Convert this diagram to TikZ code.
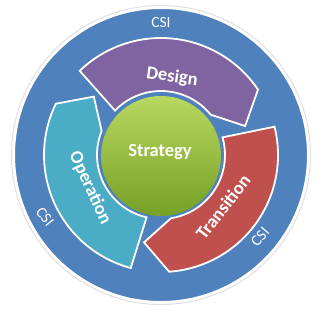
\documentclass[tikz,border=0pt]{standalone}
\usepackage{fontspec}
\setmainfont{Carlito}
\usepackage{tikz}
\usetikzlibrary{positioning}
\definecolor{csiblue}{RGB}{79,129,189}
\definecolor{designpurple}{RGB}{128,100,162}
\definecolor{transred}{RGB}{192,80,77}
\definecolor{opcyan}{RGB}{75,172,198}
\definecolor{stratlight}{RGB}{184,216,96}
\definecolor{stratmid}{RGB}{158,196,64}
\definecolor{stratdark}{RGB}{118,160,38}
\tikzset{
  ring/.style={fill=csiblue, draw=white, line width=2pt},
  seg/.style={draw=white, line width=1.8pt, line join=miter},
  csi/.style={text=white, font=\fontsize{15.5}{15.5}\selectfont, inner sep=0pt},
  phase/.style={text=white, font=\bfseries\fontsize{18.5}{18.5}\selectfont, inner sep=0pt}
}
\begin{document}
\begin{tikzpicture}[x=1pt,y=1pt]
  \useasboundingbox (-161,-156) rectangle (159,155);
  % outer CSI ring
  \draw[gray!25, line width=1pt] (0,0) circle[radius=149.5pt];
  \path[ring] (0,0) circle[radius=147pt];
  % the three phases
  \path[seg, fill=designpurple] (134:117pt) arc[start angle=134, end angle=34, radius=117pt]
    -- (19:89pt) -- (39:64pt) arc[start angle=39, end angle=136, radius=64pt] -- cycle;
  \path[seg, fill=transred] (14:117pt) arc[start angle=14, end angle=-86, radius=117pt]
    -- (-101:89pt) -- (-81:64pt) arc[start angle=-81, end angle=16, radius=64pt] -- cycle;
  \path[seg, fill=opcyan] (255:117pt) arc[start angle=255, end angle=154, radius=117pt]
    -- (139:89pt) -- (158:64pt) arc[start angle=158, end angle=257, radius=64pt] -- cycle;
  % centre
  \shade[top color=stratlight, middle color=stratmid, bottom color=stratdark]
    (0,-1) circle[radius=60pt];
  \node[phase] (strategy) at (-1,3) {Strategy};
  \node[phase, rotate=-8] (design) at (11,78) {Design};
  \node[phase, rotate=52] (transition) at (62,-52) {Transition};
  \node[phase, rotate=-65] (operation) at (-71,-33) {Operation};
  \node[csi] (csitop) at (0,132) {CSI};
  \node[csi, rotate=-52] (csileft) at (-116,-62) {CSI};
  \node[csi, rotate=49] (csiright) at (99,-82) {CSI};
\end{tikzpicture}
\end{document}
